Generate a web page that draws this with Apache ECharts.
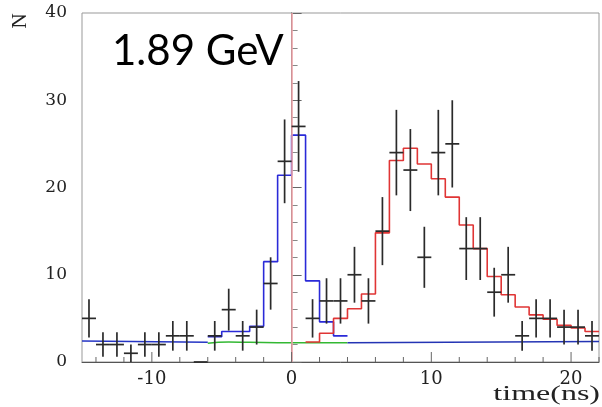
<!DOCTYPE html>
<html>
<head>
<meta charset="utf-8">
<script src="https://cdn.jsdelivr.net/npm/echarts@6/dist/echarts.min.js"></script>
<style>
html,body{margin:0;padding:0;background:#fff;}
#chart{width:602px;height:407px;}
</style>
</head>
<body>
<div id="chart"></div>
<script>
// ---- data ----
const pointX = [-14.5,-13.5,-12.5,-11.5,-10.5,-9.5,-8.5,-7.5,-6.5,-5.5,-4.5,-3.5,-2.5,-1.5,-0.5,0.5,1.5,2.5,3.5,4.5,5.5,6.5,7.5,8.5,9.5,10.5,11.5,12.5,13.5,14.5,15.5,16.5,17.5,18.5,19.5,20.5,21.5];
const counts = [5,2,2,1,2,2,3,3,0,3,6,3,4,9,23,27,5,7,7,10,7,15,24,22,12,24,25,13,13,8,10,3,5,5,4,4,3];
const errors = [2.2,1.4,1.4,1.0,1.4,1.4,1.7,1.7,0,1.7,2.4,1.7,2.0,3.0,4.8,5.2,2.2,2.6,2.6,3.2,2.6,3.9,4.9,4.7,3.5,4.9,5.0,3.6,3.6,2.8,3.2,1.7,2.2,2.2,2.0,2.0,1.7];
const binHalfWidth = 0.5;

const blueHistEdges = [-6,-5,-4,-3,-2,-1,0,1,2,3,4];
const blueHistVals  = [2.9,3.5,3.5,4.1,11.5,21.4,26.0,9.3,4.6,3.0];
const blueLeftX = [-15,-6],  blueLeftY = [2.4,2.25];
const blueRightX = [4,22],   blueRightY = [2.2,2.35];

const redEdges = [1,2,3,4,5,6,7,8,9,10,11,12,13,14,15,16,17,18,19,20,21,22];
const redVals  = [2.3,3.3,5.0,6.1,7.8,14.8,23.1,24.5,22.7,21.0,18.9,15.7,13.0,9.8,7.7,6.3,5.4,4.9,4.2,3.9,3.5];

const greenX = [-6,-4.5,-3,0,4];
const greenY = [2.15,2.3,2.25,2.2,2.2];

const refLineX = 0;
const xTickPos = [-14,-12,-10,-8,-6,-4,-2,0,2,4,6,8,10,12,14,16,18,20,22];
const xMajorStep = 10;
const xMin = -15, xMax = 22, yMin = 0, yMax = 40;

// ---- build series data ----
const stepData = (edges, vals) => edges.map((e, i) => [e, vals[Math.min(i, vals.length - 1)]]);
const zipXY = (xs, ys) => xs.map((x, i) => [x, ys[i]]);
const crossData = pointX.map((x, i) => [x, counts[i], errors[i]]);
const tickData = xTickPos.map(x => [x, x % xMajorStep === 0 ? 1 : 0]);

const chart = echarts.init(document.getElementById('chart'), null, {renderer: 'canvas'});
const labelFont = 'DejaVu Serif';
chart.setOption({
  animation: false,
  backgroundColor: '#fff',
  grid: {left: 82, right: 1, top: 13, bottom: 45, show: true, borderColor: '#999', borderWidth: 1},
  xAxis: {
    type: 'value', min: xMin, max: xMax, interval: 1,
    axisLine: {lineStyle: {color: '#555', width: 1}},
    axisTick: {show: false},
    splitLine: {show: false},
    axisLabel: {
      margin: 8, fontFamily: labelFont, fontSize: 18, color: '#222',
      formatter: v => (v % xMajorStep === 0 ? String(v) : '')
    }
  },
  yAxis: {
    type: 'value', min: yMin, max: yMax, interval: 10,
    axisLine: {show: true, lineStyle: {color: '#555', width: 1}},
    axisTick: {show: true, inside: true, length: 10, lineStyle: {color: '#666'}},
    minorTick: {show: true, splitNumber: 5, length: 6, lineStyle: {color: '#888'}},
    splitLine: {show: false},
    axisLabel: {margin: 15, fontFamily: labelFont, fontSize: 17, color: '#222'}
  },
  series: [
    {
      type: 'line', data: [], silent: true,
      markLine: {
        symbol: 'none', silent: true, label: {show: false},
        lineStyle: {color: '#eda3a8', width: 1.6, type: 'solid', opacity: 1},
        emphasis: {disabled: true},
        data: [{xAxis: refLineX}]
      }
    },
    {type: 'line', data: zipXY(greenX, greenY), symbol: 'none', smooth: true,
     lineStyle: {color: '#33b833', width: 1.5}, z: 3},
    {type: 'line', data: zipXY(blueLeftX, blueLeftY), symbol: 'none',
     lineStyle: {color: '#2434c4', width: 1.5}, z: 4},
    {type: 'line', data: stepData(blueHistEdges, blueHistVals), step: 'end', symbol: 'none',
     lineStyle: {color: '#2a2ad8', width: 1.6}, z: 4},
    {type: 'line', data: zipXY(blueRightX, blueRightY), symbol: 'none',
     lineStyle: {color: '#2434b4', width: 1.5}, z: 4},
    {type: 'line', data: stepData(redEdges, redVals), step: 'end', symbol: 'none',
     lineStyle: {color: '#e03535', width: 1.6}, z: 5},
    {
      type: 'custom', data: crossData, z: 6, silent: true,
      renderItem: (params, api) => {
        const x = api.value(0), y = api.value(1), e = api.value(2);
        const l = api.coord([x - binHalfWidth, y]);
        const r = api.coord([x + binHalfWidth, y]);
        const t = api.coord([x, y + e]);
        const b = api.coord([x, Math.max(yMin, y - e)]);
        const st = {stroke: '#2a2a2a', lineWidth: 1.7};
        return {type: 'group', children: [
          {type: 'line', shape: {x1: l[0], y1: l[1], x2: r[0], y2: r[1]}, style: st},
          {type: 'line', shape: {x1: t[0], y1: t[1], x2: b[0], y2: b[1]}, style: st}
        ]};
      }
    },
    {
      type: 'custom', data: tickData, z: 7, silent: true,
      renderItem: (params, api) => {
        const p = api.coord([api.value(0), yMin]);
        const len = api.value(1) ? 10 : 5;
        return {type: 'line', shape: {x1: p[0], y1: p[1], x2: p[0], y2: p[1] - len},
                style: {stroke: '#666', lineWidth: 1}};
      }
    }
  ],
  graphic: [
    {type: 'text', x: 112, y: 51, style: {text: '1.89 GeV', font: '42px Lato', fill: '#000', textAlign: 'left', textVerticalAlign: 'middle'}},
    {type: 'text', x: 20, y: 21, rotation: Math.PI / 2, style: {text: 'N', font: '21px "Liberation Serif"', fill: '#222', align: 'center', verticalAlign: 'middle'}},
    {type: 'text', x: 600, y: 395, scaleX: 1.6, style: {text: 'time(ns)', font: '20px "Liberation Serif"', fill: '#222', textAlign: 'right', textVerticalAlign: 'middle'}}
  ]
});
</script>
</body>
</html>
